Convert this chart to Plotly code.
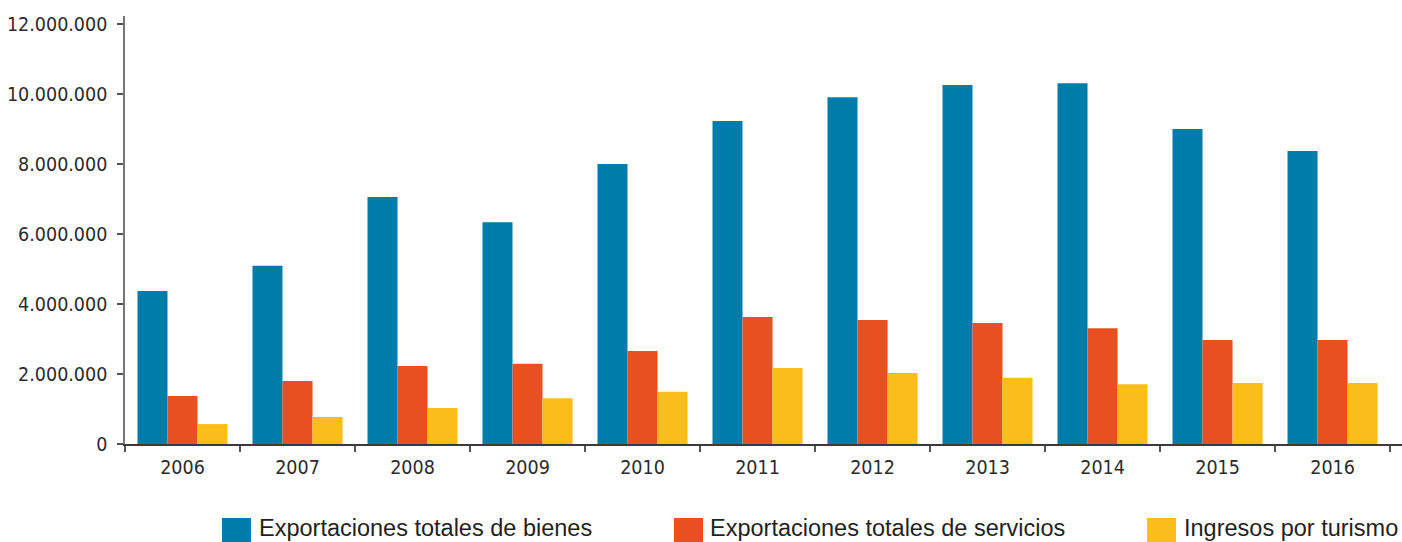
import plotly.graph_objects as go

# Annual figures (thousand USD)
years = ["2006", "2007", "2008", "2009", "2010", "2011", "2012", "2013", "2014", "2015", "2016"]
bienes = [4370000, 5090000, 7060000, 6340000, 8000000, 9230000, 9910000, 10260000, 10310000, 9000000, 8370000]
servicios = [1370000, 1800000, 2230000, 2290000, 2660000, 3630000, 3540000, 3460000, 3310000, 2970000, 2970000]
turismo = [570000, 770000, 1030000, 1310000, 1490000, 2170000, 2030000, 1890000, 1710000, 1740000, 1740000]

series_names = [
    "Exportaciones totales de bienes",
    "Exportaciones totales de servicios",
    "Ingresos por turismo",
]
series_values = [bienes, servicios, turismo]
colors = ["#007CAB", "#E8511F", "#FBBD1A"]

W, H = 1402, 542
L, R, T, B = 125, 0, 16, 98
PW, PH = W - L - R, H - T - B

tick_font = dict(family="Liberation Sans Narrow, DejaVu Sans Condensed, Arial Narrow, sans-serif",
                 size=19.5, color="#2b2b2b")
legend_font = dict(family="Liberation Sans, Arial, Helvetica, sans-serif", size=23.5, color="#231f20")

fig = go.Figure()
for name, vals, col in zip(series_names, series_values, colors):
    fig.add_trace(go.Bar(x=years, y=vals, name=name, marker=dict(color=col, line=dict(width=0)),
                         showlegend=False))

# custom legend row along the bottom edge
legend_items = [(222, 258), (674, 709), (1147, 1183)]
shapes = []
annotations = []
for (sx, tx), name, col in zip(legend_items, series_names, colors):
    x0 = (sx - L) / PW
    x1 = (sx + 29 - L) / PW
    y0 = (H - B - 548) / PH
    y1 = (H - B - 518) / PH
    shapes.append(dict(type="rect", xref="paper", yref="paper", x0=x0, x1=x1, y0=y0, y1=y1,
                       fillcolor=col, line=dict(width=0), layer="above"))
    annotations.append(dict(xref="paper", yref="paper", x=(tx - L) / PW, y=(H - B - 528) / PH,
                            xanchor="left", yanchor="middle", text=name, showarrow=False,
                            borderpad=0, font=legend_font))

fig.update_layout(
    width=W, height=H,
    margin=dict(l=L, r=R, t=T, b=B, pad=0, autoexpand=False),
    paper_bgcolor="white", plot_bgcolor="white",
    barmode="group", bargap=0.217, bargroupgap=0,
    separators=",.",
    shapes=shapes,
    annotations=annotations,
)
fig.update_xaxes(
    type="category", range=[-0.5, 10.604], automargin=False,
    showgrid=False, showline=True, linecolor="#3a3a3a", linewidth=1.5,
    ticks="outside", tickson="boundaries", ticklen=6, tickcolor="#555", tickwidth=1.5,
    tickfont=tick_font, ticklabelstandoff=5,
)
fig.update_yaxes(
    range=[0, 12230000], tickvals=[0, 2000000, 4000000, 6000000, 8000000, 10000000, 12000000],
    tickformat=",.0f", automargin=False,
    showgrid=False, zeroline=False, showline=True, linecolor="#777", linewidth=1.5,
    ticks="outside", ticklen=6, tickcolor="#555", tickwidth=1.5,
    tickfont=tick_font, ticklabelstandoff=6,
)

fig.write_html("out.html")
